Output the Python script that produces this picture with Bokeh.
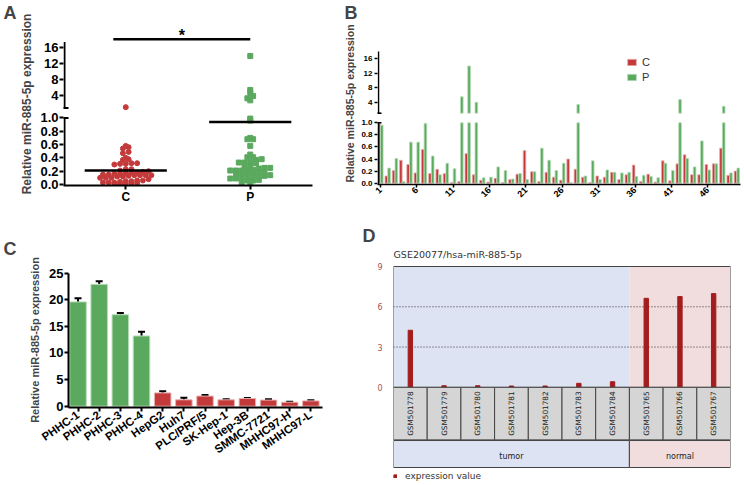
import math
import numpy as np
from bokeh.plotting import figure
from bokeh.layouts import column, row
from bokeh.models import (ColumnDataSource, FixedTicker, Legend, LegendItem,
                          Range1d, TeeHead, Title, Whisker)
from bokeh.transform import dodge
from bokeh.core.properties import value
from bokeh.embed import file_html
from bokeh.resources import INLINE

# ---------------- data ----------------
samples = list(range(1, 51))
c_vals = [1.2, 0.12, 0.21, 0.38, 0.31, 0.17, 0.56, 0.16, 0.23, 0.16,
          0.01, 0.03, 0.49, 0.14, 0.05, 0.02, 0.08, 0.01, 0.06, 0.15,
          0.54, 0.19, 0.03, 0.18, 0.10, 0.05, 0.40, 0.23, 0.10, 0.01,
          0.12, 0.10, 0.18, 0.06, 0.14, 0.30, 0.03, 0.15, 0.02, 0.37,
          0.04, 0.32, 0.47, 0.14, 0.14, 0.31, 0.32, 0.58, 0.13, 0.20]
p_vals = [0.96, 0.25, 0.41, 0.03, 0.68, 0.68, 0.99, 0.45, 0.14, 0.33,
          0.24, 5.5, 14.0, 4.0, 0.09, 0.10, 0.27, 0.21, 0.07, 0.16,
          0.06, 0.19, 0.58, 0.38, 0.21, 0.33, 0.01, 3.4, 0.12, 0.37,
          0.06, 0.22, 0.18, 0.17, 0.18, 0.11, 0.13, 0.11, 0.09, 0.33,
          0.21, 4.75, 0.41, 0.27, 0.70, 0.22, 0.32, 2.9, 0.17, 0.25]
group_names = ["C", "P"]
lower_ticks = [0.0, 0.2, 0.4, 0.6, 0.8, 1.0]
upper_ticks = [4, 8, 12, 16]
sample_ticks = [1, 6, 11, 16, 21, 26, 31, 36, 41, 46]

cell_lines = ["PHHC-1", "PHHC-2", "PHHC-3", "PHHC-4", "HepG2", "Huh7", "PLC/PRF/5",
              "SK-Hep-1", "Hep-3B", "SMMC-7721", "MHHC97-H", "MHHC97-L"]
cell_group = ["PHHC"] * 4 + ["HCC"] * 8
cell_vals = [19.6, 22.9, 17.2, 13.2, 2.5, 1.2, 1.9, 1.2, 1.45, 1.15, 0.75, 1.0]
cell_err = [0.7, 0.6, 0.3, 0.8, 0.3, 0.4, 0.2, 0.1, 0.1, 0.15, 0.1, 0.1]
cell_ticks = [0, 5, 10, 15, 20, 25]

gse_title = "GSE20077/hsa-miR-885-5p"
gse_samples = ["GSM501778", "GSM501779", "GSM501780", "GSM501781", "GSM501782",
               "GSM501783", "GSM501784", "GSM501765", "GSM501766", "GSM501767"]
gse_vals = [4.25, 0.12, 0.12, 0.1, 0.1, 0.3, 0.42, 6.63, 6.76, 6.98]
gse_groups = ["tumor"] * 7 + ["normal"] * 3
gse_ticks = [0, 3, 6, 9]

# ---------------- style ----------------
FONT = "Liberation Sans"
RED, RED_EDGE = "#c43a3b", "#e9b0b0"
GREEN, GREEN_EDGE = "#5aa95e", "#b6dcb7"
K = 0.06  # compression of the upper segment of the broken axes
YLABEL = "Relative miR-885-5p expression"


def brk(v, gap):
    return v if v <= 1 else 1 + gap + (v - 1) * K


def make_fig(w, h, xr, yr, l, r, t, b):
    p = figure(width=w, height=h, x_range=Range1d(*xr), y_range=Range1d(*yr),
               min_border_left=l, min_border_right=r, min_border_top=t,
               min_border_bottom=b, output_backend="svg", toolbar_location=None,
               title=None)
    p.outline_line_color = None
    p.grid.visible = False
    return p


def style_axis(ax, size, bold=True, width=2, tick_out=4, standoff=1, font=FONT):
    ax.axis_line_width = width
    ax.axis_line_color = "black"
    ax.major_tick_line_width = width
    ax.major_tick_line_color = "black"
    ax.major_tick_in = 0
    ax.major_tick_out = tick_out
    ax.minor_tick_line_color = None
    ax.major_label_text_font = font
    ax.major_label_text_font_size = size
    ax.major_label_text_font_style = "bold" if bold else "normal"
    ax.major_label_text_color = "black"
    ax.major_label_standoff = standoff


def axis_title(ax, size, standoff):
    ax.axis_label = YLABEL
    ax.axis_label_text_font = FONT
    ax.axis_label_text_font_size = size
    ax.axis_label_text_font_style = "bold"
    ax.axis_label_standoff = standoff


def panel_letter(p, text, offset, standoff):
    p.add_layout(Title(text=text, text_font=FONT, text_font_size="18px",
                       text_font_style="bold", align="left", offset=offset,
                       standoff=standoff), "above")


def row_swarm(ypx, row_h, dx):
    bins = np.floor(ypx / row_h + 0.5).astype(int)
    off = np.zeros(len(ypx))
    for b in set(bins.tolist()):
        members = sorted([i for i in range(len(ypx)) if bins[i] == b], key=lambda i: ypx[i])
        n = len(members)
        for slot, i in enumerate(members):
            off[i] = (slot - (n - 1) / 2) * dx
    return off


# ================= Panel A =================
GAP_A, A_TOP = 0.15, 17.5
a_x0, a_x1, a_y0, a_y1 = 0.0, 2.0, -0.0149, 2.4328
wA, hA, lA, rA, tA, bA = 335, 206, 63, 23, 22, 20
pA = make_fig(wA, hA, (a_x0, a_x1), (a_y0, a_y1), lA, rA, tA, bA)
ax_px = (wA - lA - rA) / (a_x1 - a_x0)
ay_px = (hA - tA - bA) / (a_y1 - a_y0)
centers = [0.5, 1.5]
for vals, cx, color, marker in ((c_vals, centers[0], RED, "circle"),
                                (p_vals, centers[1], GREEN, "square")):
    disp = np.array([brk(v, GAP_A) for v in vals])
    off = row_swarm(disp * ay_px, 4.0, 5.7)
    pA.scatter(cx + off / ax_px, disp, marker=marker, size=5, fill_color=color,
               line_color=color)
    m = brk(float(np.mean(vals)), GAP_A)
    pA.segment(cx - 0.33, m, cx + 0.33, m, line_width=2.5, line_color="black")

# significance bar and star
pA.segment(0.4, 2.18, 1.5, 2.18, line_width=2.5, line_color="black")
pA.text(x=[0.95], y=[2.24], text=["*"], text_font=value(FONT), text_font_size="16px",
        text_font_style="bold", text_align="center", text_baseline="middle")

# broken y axis line
xa = a_x0 + 1.0 / ax_px
pA.segment([xa, xa], [a_y0, 1 + GAP_A], [xa, xa], [1.0, brk(A_TOP, GAP_A)],
           line_width=2, line_color="black")
pA.segment([xa - 4 / ax_px] * 2, [1.0, 1 + GAP_A], [xa + 4 / ax_px] * 2, [1.0, 1 + GAP_A],
           line_width=2, line_color="black")

ya = pA.yaxis[0]
a_ticks = [round(brk(t, GAP_A), 6) for t in lower_ticks + upper_ticks]
tick_labels = ["%.1f" % t for t in lower_ticks] + ["%d" % t for t in upper_ticks]
ya.ticker = FixedTicker(ticks=a_ticks)
ya.major_label_overrides = dict(zip(a_ticks, tick_labels))
style_axis(ya, "13px", tick_out=4, standoff=1)
ya.axis_line_color = None
axis_title(ya, "12px", 3)

xaA = pA.xaxis[0]
xaA.ticker = FixedTicker(ticks=centers)
xaA.major_label_overrides = dict(zip(centers, group_names))
style_axis(xaA, "12px", tick_out=4, standoff=0)
panel_letter(pA, "A", -60, 0)

# ================= Panel B =================
GAP_B, B_TOP = 0.16, 18
b_x0, b_x1, b_y0, b_y1 = 0.6, 50.5, -0.0215, 2.6606
wB, hB, lB, rB, tB, bB = 409, 206, 42, 4, 22, 22
pB = make_fig(wB, hB, (b_x0, b_x1), (b_y0, b_y1), lB, rB, tB, bB)
bx_px = (wB - lB - rB) / (b_x1 - b_x0)

src_b = ColumnDataSource(dict(s=samples,
                              c_low=[min(v, 1.0) for v in c_vals],
                              p_low=[min(v, 1.0) for v in p_vals]))
rc = pB.vbar(x=dodge("s", -0.19, range=pB.x_range), top="c_low", bottom=0, width=0.36,
             fill_color=RED, line_color=RED_EDGE, line_width=0.8, source=src_b)
rp = pB.vbar(x=dodge("s", 0.19, range=pB.x_range), top="p_low", bottom=0, width=0.36,
             fill_color=GREEN, line_color=GREEN_EDGE, line_width=0.8, source=src_b)
for vals, dx, color, edge in ((c_vals, -0.19, RED, RED_EDGE), (p_vals, 0.19, GREEN, GREEN_EDGE)):
    hi = [(s, v) for s, v in zip(samples, vals) if v > 1]
    src = ColumnDataSource(dict(s=[h[0] for h in hi],
                                bottom=[1 + GAP_B] * len(hi),
                                top=[brk(h[1], GAP_B) for h in hi]))
    pB.vbar(x=dodge("s", dx, range=pB.x_range), top="top", bottom="bottom", width=0.36,
            fill_color=color, line_color=edge, line_width=0.8, source=src)

xb = b_x0 + 1.0 / bx_px
pB.segment([xb, xb], [b_y0, 1 + GAP_B], [xb, xb], [1.0, brk(B_TOP, GAP_B)],
           line_width=1.5, line_color="black")
pB.segment([xb - 3 / bx_px] * 2, [1.0, 1 + GAP_B], [xb + 3 / bx_px] * 2, [1.0, 1 + GAP_B],
           line_width=1.5, line_color="black")

yb = pB.yaxis[0]
b_ticks = [round(brk(t, GAP_B), 6) for t in lower_ticks + upper_ticks]
yb.ticker = FixedTicker(ticks=b_ticks)
yb.major_label_overrides = dict(zip(b_ticks, tick_labels))
style_axis(yb, "8px", width=1.5, tick_out=3, standoff=2)
yb.axis_line_color = None
axis_title(yb, "10.5px", 2)

xbB = pB.xaxis[0]
xbB.ticker = FixedTicker(ticks=sample_ticks)
style_axis(xbB, "9px", width=1.5, tick_out=3, standoff=1)
xbB.major_label_orientation = math.pi / 4

legB = Legend(items=[LegendItem(label="C", renderers=[rc]), LegendItem(label="P", renderers=[rp])],
              location=(249, 101), padding=0, margin=0, spacing=3, glyph_width=11,
              glyph_height=8, label_height=8, label_standoff=5,
              label_text_font=FONT, label_text_font_size="11px", label_text_color="#333333",
              border_line_color=None, background_fill_alpha=0)
pB.add_layout(legB)
panel_letter(pB, "B", -33, 0)

# ================= Panel C =================
c_x0, c_x1, c_y0, c_y1 = 0.55, 12.55, -0.244, 25.13
wC, hC, lC, rC, tC, bC = 345, 279, 68, 23, 66, 78
pC = make_fig(wC, hC, (c_x0, c_x1), (c_y0, c_y1), lC, rC, tC, bC)
pos = list(range(1, len(cell_lines) + 1))
src_c = ColumnDataSource(dict(
    x=pos, v=cell_vals, lower=cell_vals,
    upper=[v + e for v, e in zip(cell_vals, cell_err)],
    color=[GREEN if g == "PHHC" else RED for g in cell_group],
    edge=[GREEN_EDGE if g == "PHHC" else RED_EDGE for g in cell_group]))
pC.vbar(x="x", top="v", bottom=0, width=0.78, fill_color="color", line_color="edge",
        line_width=1, source=src_c)
pC.add_layout(Whisker(source=src_c, base="x", upper="upper", lower="lower",
                      dimension="height", line_width=2, line_color="black",
                      upper_head=TeeHead(size=7, line_width=2, line_color="black"),
                      lower_head=None))
ycC = pC.yaxis[0]
ycC.ticker = FixedTicker(ticks=cell_ticks)
style_axis(ycC, "13px", tick_out=4, standoff=1)
ycC.bounds = (c_y0, cell_ticks[-1])
axis_title(ycC, "11px", 5)
xcC = pC.xaxis[0]
xcC.ticker = FixedTicker(ticks=pos)
xcC.major_label_overrides = dict(zip(pos, cell_lines))
style_axis(xcC, "11.5px", tick_out=4, standoff=2)
xcC.major_label_orientation = 0.61
panel_letter(pC, "C", -65, 28)

# ================= Panel D =================
d_x0, d_x1, d_y0, d_y1 = 0.5, 10.5, -7.161, 10.34
wD, hD, lD, rD, tD, bD = 399, 279, 48, 14, 42, 2
pD = make_fig(wD, hD, (d_x0, d_x1), (d_y0, d_y1), lD, rD, tD, bD)
pD.xaxis.visible = False
BLUE_BG, PINK_BG, CELL = "#dde3f2", "#f1dddd", "#d5d5d5"
LINE = "#444444"
n_t = gse_groups.count("tumor")
n_all = len(gse_samples)
idx = list(range(1, n_all + 1))
D_TOP = gse_ticks[-1]
ROW1 = -3.91    # bottom of the sample-name row
ROW2 = -5.97    # bottom of the tumor/normal row
pD.quad(left=[d_x0, n_t + 0.5], right=[n_t + 0.5, d_x1], bottom=[0, 0], top=[D_TOP, D_TOP],
        fill_color=[BLUE_BG, PINK_BG], line_color=None, level="image")
pD.segment(x0=[d_x0, d_x0], y0=[3, 6], x1=[d_x1, d_x1], y1=[3, 6],
           line_color="#333333", line_dash="1 2", line_width=1)
rbars = pD.vbar(x=idx, top=gse_vals, bottom=0, width=0.13, fill_color="#a41d1d",
                line_color="#a41d1d")
pD.quad(left=[d_x0], right=[d_x1], bottom=[0], top=[D_TOP], fill_color=None,
        line_color=LINE, line_width=1)
pD.quad(left=[i - 0.5 for i in idx], right=[i + 0.5 for i in idx], bottom=ROW1, top=0,
        fill_color=CELL, line_color=LINE, line_width=1)
pD.quad(left=[d_x0, n_t + 0.5], right=[n_t + 0.5, d_x1], bottom=ROW2, top=ROW1 - 0.05,
        fill_color=[BLUE_BG, PINK_BG], line_color=LINE, line_width=1)
pD.text(x=idx, y=ROW1 / 2, text=gse_samples, angle=math.pi / 2, text_align="center",
        text_baseline="middle", text_font=value("DejaVu Sans"), text_font_size="7.3px",
        text_color="#222222")
pD.text(x=[(0.5 + n_t + 0.5) / 2, (n_t + 0.5 + d_x1) / 2], y=(ROW1 + ROW2) / 2 - 0.2,
        text=["tumor", "normal"], text_align="center", text_baseline="middle",
        text_font=value("DejaVu Sans"), text_font_size="8px", text_color="#222222")
pD.text(x=[d_x0], y=[9.87], text=[gse_title], text_align="left", text_baseline="middle",
        text_font=value("DejaVu Sans"), text_font_size="9.5px", text_color="#333333")
ydD = pD.yaxis[0]
ydD.ticker = FixedTicker(ticks=gse_ticks)
ydD.axis_line_color = None
ydD.major_tick_line_color = None
ydD.minor_tick_line_color = None
ydD.major_label_text_font = "DejaVu Sans"
ydD.major_label_text_font_size = "8px"
ydD.major_label_text_color = "#a85050"
ydD.major_label_standoff = 5
panel_letter(pD, "D", -31, 6)
legD = Legend(items=[LegendItem(label="expression value", renderers=[rbars])],
              location=(0, 2), padding=0, margin=0,
              glyph_width=4, glyph_height=4, label_height=8, label_standoff=8,
              label_text_font="DejaVu Sans", label_text_font_size="9px",
              label_text_color="#333333", border_line_color=None, background_fill_alpha=0)
pD.add_layout(legD)

layout = column(row(column(pA), column(pB)), row(column(pC), column(pD)))
open("out.html", "w").write(file_html(layout, INLINE))
